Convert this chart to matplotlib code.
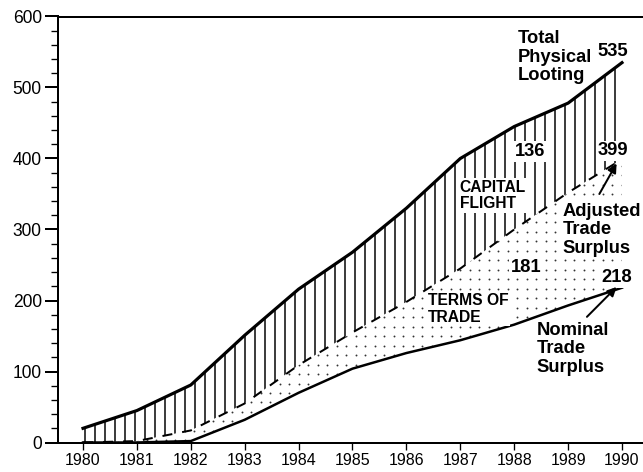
import numpy as np
import matplotlib.pyplot as plt
from matplotlib.ticker import MultipleLocator

# data (billions of dollars)
years = [1980, 1981, 1982, 1983, 1984, 1985, 1986, 1987, 1988, 1989, 1990]
total_looting = [20, 45, 81, 151, 216, 268, 330, 400, 445, 478, 535]
adjusted_surplus = [0, 2, 17, 55, 109, 155, 198, 245, 300, 352, 399]
nominal_surplus = [0, 0, 2, 32, 70, 104, 126, 144, 166, 193, 218]

plt.rcParams['font.family'] = ['Liberation Sans', 'DejaVu Sans']
plt.rcParams['hatch.linewidth'] = 0.9

DPI = 120
fig = plt.figure(figsize=(643 / DPI, 472 / DPI), dpi=DPI)
ax = fig.add_axes([58 / 643, 29.5 / 472, 1 - 58 / 643, 426 / 472])

ax.set_xlim(1979.536, 1990.39)
ax.set_ylim(0, 600)

# capital flight: vertical hatching between adjusted surplus and total
ax.fill_between(years, adjusted_surplus, total_looting, facecolor='none',
                edgecolor='black', hatch='||', linewidth=0)

# terms of trade: a loose stipple between nominal and adjusted surplus
band = ax.fill_between(years, nominal_surplus, adjusted_surplus,
                       facecolor='none', linewidth=0)
gx, gy = np.meshgrid(np.arange(1979.6, 1990.4, 9.5 / 53.9),
                     np.arange(3, 600, 9.5 / 0.712))
dots = ax.scatter(gx.ravel(), gy.ravel(), s=1.3, color='#333333',
                  linewidths=0)
dots.set_clip_path(band.get_paths()[0], ax.transData)

ax.plot(years, total_looting, color='black', lw=1.9)
ax.plot(years, adjusted_surplus, color='black', lw=1.2, linestyle=(0, (5, 5)))
ax.plot(years, nominal_surplus, color='black', lw=1.5)

ax.spines['right'].set_visible(False)
for side in ['left', 'top', 'bottom']:
    ax.spines[side].set_linewidth(1.2)

ax.set_xticks(years)
ax.set_yticks(range(0, 601, 100))
ax.yaxis.set_minor_locator(MultipleLocator(20))
ax.tick_params(axis='x', length=4.2, width=0.8, pad=2, labelsize=9.6)
ax.tick_params(axis='y', which='major', length=7.8, width=1.2, pad=2, labelsize=10.5)
ax.tick_params(axis='y', which='minor', length=4, width=0.8)

big = dict(fontsize=11, fontweight='bold', linespacing=1.12)
small = dict(fontsize=9.4, fontweight='bold', linespacing=1.12)
blank = dict(facecolor='white', edgecolor='none', pad=1)

ax.text(1988.07, 581, 'Total\nPhysical\nLooting', ha='left', va='top', **big)
ax.text(1989.83, 550, '535', ha='center', va='center', **big)
ax.text(1988.29, 410, '136', ha='center', va='center', bbox=blank, **big)
ax.text(1989.83, 411, '399', ha='center', va='center', bbox=blank, **big)
ax.text(1986.99, 348, 'CAPITAL\nFLIGHT', ha='left', va='center', bbox=blank, **small)
ax.text(1988.9, 338, 'Adjusted\nTrade\nSurplus', ha='left', va='top', bbox=blank, **big)
ax.text(1988.22, 246, '181', ha='center', va='center', bbox=blank, **big)
ax.text(1989.91, 232, '218', ha='center', va='center', bbox=blank, **big)
ax.text(1986.4, 188, 'TERMS OF\nTRADE', ha='left', va='center', bbox=blank, **small)
ax.text(1988.42, 170, 'Nominal\nTrade\nSurplus', ha='left', va='top', **big)

arrow = dict(arrowstyle='-|>', color='black', lw=1.2, mutation_scale=11,
             shrinkA=0, shrinkB=0)
ax.annotate('', xy=(1989.9, 393), xytext=(1989.58, 350), arrowprops=arrow)
ax.annotate('', xy=(1989.9, 219), xytext=(1989.35, 177), arrowprops=arrow)

fig.savefig('out.png', dpi=DPI)
